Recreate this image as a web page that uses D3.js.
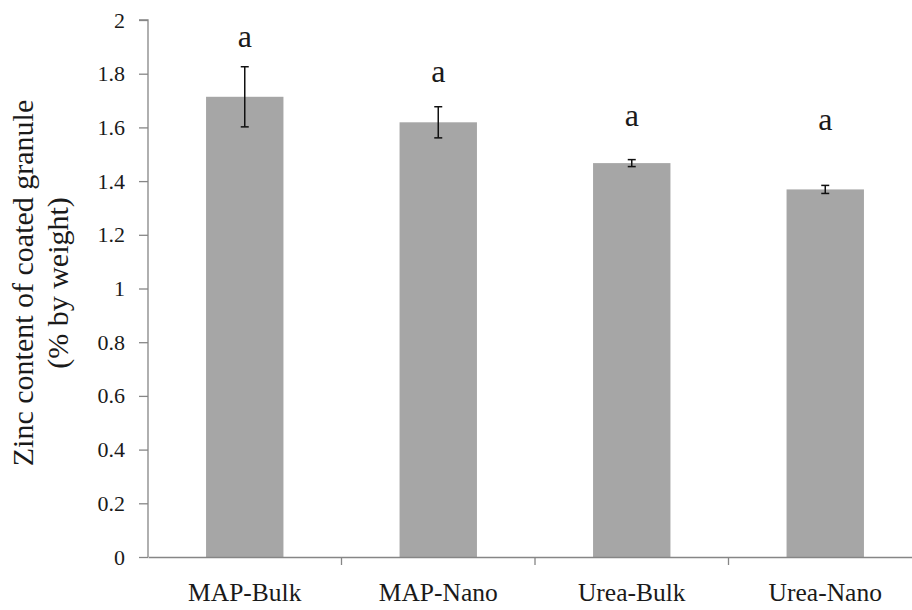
<!DOCTYPE html>
<html>
<head>
<meta charset="utf-8">
<script src="https://cdn.jsdelivr.net/npm/d3@7"></script>
<style>
  body { margin: 0; background: #fff; }
</style>
</head>
<body>
<div id="chart"></div>
<script>
const categories = ['MAP-Bulk', 'MAP-Nano', 'Urea-Bulk', 'Urea-Nano'];
const zincValues = [1.714, 1.619, 1.467, 1.369];
const errValues = [0.112, 0.058, 0.013, 0.015];
const letters = ['a', 'a', 'a', 'a'];
const letterPos = [1.90, 1.77, 1.605, 1.59];
const yTicks = [0, 0.2, 0.4, 0.6, 0.8, 1, 1.2, 1.4, 1.6, 1.8, 2];

const width = 912, height = 610;
const margin = { top: 20, left: 148 };
const plotH = 537;
const band = 193.5;
const serif = '"Liberation Serif", "Times New Roman", Times, serif';
const ink = '#1a1a1a';

const x = d3.scaleBand()
  .domain(categories)
  .range([margin.left, margin.left + band * categories.length])
  .paddingInner(0)
  .paddingOuter(0);

const y = d3.scaleLinear()
  .domain([0, 2])
  .range([margin.top + plotH, margin.top]);

const svg = d3.select('#chart')
  .append('svg')
  .attr('width', width)
  .attr('height', height)
  .attr('font-family', serif);

const barW = x.bandwidth() * 0.4;
const axisColor = '#868686';

// bars
svg.append('g')
  .selectAll('rect')
  .data(categories)
  .join('rect')
  .attr('x', d => x(d) + (x.bandwidth() - barW) / 2)
  .attr('y', (d, i) => y(zincValues[i]))
  .attr('width', barW)
  .attr('height', (d, i) => y(0) - y(zincValues[i]))
  .attr('fill', '#a6a6a6');

// error bars
const eb = svg.append('g')
  .attr('stroke', '#111')
  .attr('stroke-width', 1.5);
categories.forEach((c, i) => {
  const cx = x(c) + x.bandwidth() / 2;
  const hi = y(zincValues[i] + errValues[i]);
  const lo = y(zincValues[i] - errValues[i]);
  eb.append('line').attr('x1', cx).attr('x2', cx).attr('y1', hi).attr('y2', lo);
  eb.append('line').attr('x1', cx - 4).attr('x2', cx + 4).attr('y1', hi).attr('y2', hi);
  eb.append('line').attr('x1', cx - 4).attr('x2', cx + 4).attr('y1', lo).attr('y2', lo);
});

// significance letters
svg.append('g')
  .selectAll('text')
  .data(categories)
  .join('text')
  .attr('x', d => x(d) + x.bandwidth() / 2)
  .attr('y', (d, i) => y(letterPos[i]))
  .attr('text-anchor', 'middle')
  .style('font-family', serif)
  .style('font-size', '32px')
  .attr('fill', ink)
  .text((d, i) => letters[i]);

// y axis
const yAxis = svg.append('g')
  .attr('transform', `translate(${margin.left},0)`)
  .call(d3.axisLeft(y).tickValues(yTicks).tickSize(9).tickPadding(14).tickFormat(d3.format('~g')));
yAxis.attr('font-family', serif);
yAxis.selectAll('path, line').attr('stroke', axisColor).attr('stroke-width', 1.3);
yAxis.select('.domain').attr('d', `M-9,${y(2)}H0V${y(0)}`);
yAxis.selectAll('text').style('font-family', serif).style('font-size', '22px').attr('fill', ink);

// x axis
const xAxis = svg.append('g')
  .attr('transform', `translate(0,${y(0)})`)
  .call(d3.axisBottom(x).tickSize(0).tickPadding(26));
xAxis.attr('font-family', serif);
xAxis.select('.domain').attr('stroke', axisColor).attr('stroke-width', 1.3);
xAxis.selectAll('text').style('font-family', serif).style('font-size', '25.5px').attr('fill', ink);
xAxis.selectAll('.sep')
  .data(categories.slice(1))
  .join('line')
  .attr('class', 'sep')
  .attr('x1', d => x(d)).attr('x2', d => x(d))
  .attr('y1', 0).attr('y2', 8)
  .attr('stroke', axisColor)
  .attr('stroke-width', 1.3);

// y title
const yTitle = svg.append('text')
  .attr('transform', 'translate(0,283) rotate(-90)')
  .attr('text-anchor', 'middle')
  .style('font-family', serif)
  .style('font-size', '30px')
  .attr('fill', ink);
yTitle.append('tspan').attr('x', 0).attr('y', 33).text('Zinc content of coated granule');
yTitle.append('tspan').attr('x', 0).attr('y', 68).text('(% by weight)');
</script>
</body>
</html>
